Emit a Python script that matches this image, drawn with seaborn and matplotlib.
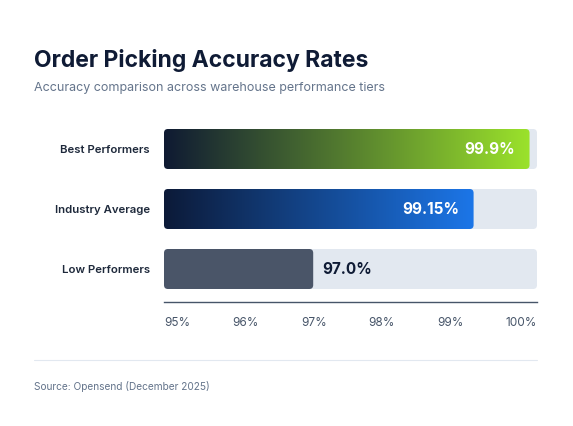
import matplotlib
matplotlib.use("Agg")
import matplotlib.pyplot as plt
import numpy as np
import pandas as pd
import seaborn as sns
from matplotlib.colors import LinearSegmentedColormap
from matplotlib.patches import FancyBboxPatch
from matplotlib.transforms import ScaledTranslation

# data
tiers = ["Best Performers", "Industry Average", "Low Performers"]
accuracy = [99.9, 99.15, 97.0]
value_labels = ["99.9%", "99.15%", "97.0%"]
ticks = [95, 96, 97, 98, 99, 100]
tick_labels = ["95%", "96%", "97%", "98%", "99%", "100%"]

sns.set_style("white")
plt.rcParams["font.family"] = ["Inter", "DejaVu Sans"]

NAVY = "#0f1b35"
SLATE = "#64748b"
TRACK = "#e2e8f0"

fig = plt.figure(figsize=(5.73, 4.26), dpi=100)
W, H = 573, 426
ax = fig.add_axes([164 / W, 1 - 302 / H, (537 - 164) / W, (302 - 119) / H])

df = pd.DataFrame({"tier": tiers, "accuracy": accuracy, "track": [ticks[-1]] * len(tiers)})

sns.barplot(data=df, x="track", y="tier", color=TRACK, width=40 / 60, ax=ax, saturation=1)
sns.barplot(data=df, x="accuracy", y="tier", color="#4a5568", width=40 / 60, ax=ax, saturation=1)

ax.set_xlim(ticks[0], ticks[-1])
ax.set_ylim(2.55, -0.5)

# rounded corners: radius about 4 px
px_x = (ticks[-1] - ticks[0]) / (537 - 164)
px_y = 1 / 60
r = 4 * px_x
aspect = px_y / px_x

grads = [
    LinearSegmentedColormap.from_list("g", ["#0f1a33", "#9be22b"]),
    LinearSegmentedColormap.from_list("b", ["#0c1a38", "#1c76e8"]),
    None,
]

patches = list(ax.patches)
n = len(tiers)
for k, p in enumerate(patches):
    x0 = max(p.get_x(), ticks[0])
    x1 = p.get_x() + p.get_width()
    y0 = p.get_y()
    h = p.get_height()
    fc = p.get_facecolor()
    p.set_visible(False)
    box = FancyBboxPatch((x0, y0), x1 - x0, h,
                         boxstyle=f"round,pad=0,rounding_size={r}",
                         mutation_aspect=aspect, facecolor=fc, edgecolor="none", zorder=2 + (k >= n))
    ax.add_patch(box)
    if k >= n:
        cmap = grads[k - n]
        if cmap is not None:
            box.set_facecolor("none")
            grad = np.linspace(0, 1, 256).reshape(1, -1)
            im = ax.imshow(grad, cmap=cmap, aspect="auto", extent=(x0, x1, y0 + h, y0),
                           zorder=3, interpolation="bicubic")
            im.set_clip_path(box)

ax.set_xlim(ticks[0], ticks[-1])
ax.set_ylim(2.55, -0.5)

# value labels
for i, (v, lab) in enumerate(zip(accuracy, value_labels)):
    if grads[i] is not None:
        ax.annotate(lab, (v, i), xytext=(-10.5, 0), textcoords="offset points",
                    ha="right", va="center", color="white", fontsize=11, fontweight="bold", zorder=5)
    else:
        ax.annotate(lab, (v, i), xytext=(6.5, 0), textcoords="offset points",
                    ha="left", va="center", color=NAVY, fontsize=11, fontweight="bold", zorder=5)

for s in ["top", "right", "left"]:
    ax.spines[s].set_visible(False)
ax.spines["bottom"].set_color("#475569")
ax.spines["bottom"].set_linewidth(1.0)

ax.set_xticks(ticks)
ax.set_xticklabels(tick_labels)
ax.tick_params(axis="x", length=0, pad=10.5, labelsize=8.5, labelcolor="#475569")
ax.tick_params(axis="y", length=0, pad=10, labelsize=8.2, labelcolor="#1e293b")
for t in ax.get_yticklabels():
    t.set_fontweight("semibold")
ax.set_xlabel("")
ax.set_ylabel("")

# spread the x tick labels evenly across the axis (first flush left, last flush right)
fig.canvas.draw()
renderer = fig.canvas.get_renderer()
lbls = ax.get_xticklabels()
widths = [t.get_window_extent(renderer).width for t in lbls]
span = ax.get_window_extent(renderer)
gap = (span.width - sum(widths)) / (len(lbls) - 1)
left = span.x0
for t, w, tk in zip(lbls, widths, ticks):
    centre = left + w / 2
    tick_px = ax.transData.transform((tk, 0))[0]
    t.set_transform(t.get_transform() + ScaledTranslation((centre - tick_px) / fig.dpi, 0, fig.dpi_scale_trans))
    left += w + gap

fig.text(34 / W, 1 - 60 / H, "Order Picking Accuracy Rates", ha="left", va="center",
         fontsize=16.5, fontweight="bold", color=NAVY)
fig.text(34 / W, 1 - 88 / H, "Accuracy comparison across warehouse performance tiers",
         ha="left", va="center", fontsize=9, color=SLATE)
fig.add_artist(plt.Line2D([34 / W, 537 / W], [1 - 360 / H] * 2, color=TRACK, lw=0.8))
fig.text(34 / W, 1 - 387 / H, "Source: Opensend (December 2025)", ha="left", va="center",
         fontsize=7.3, color=SLATE)

fig.savefig("out.png", dpi=100, facecolor="white")
